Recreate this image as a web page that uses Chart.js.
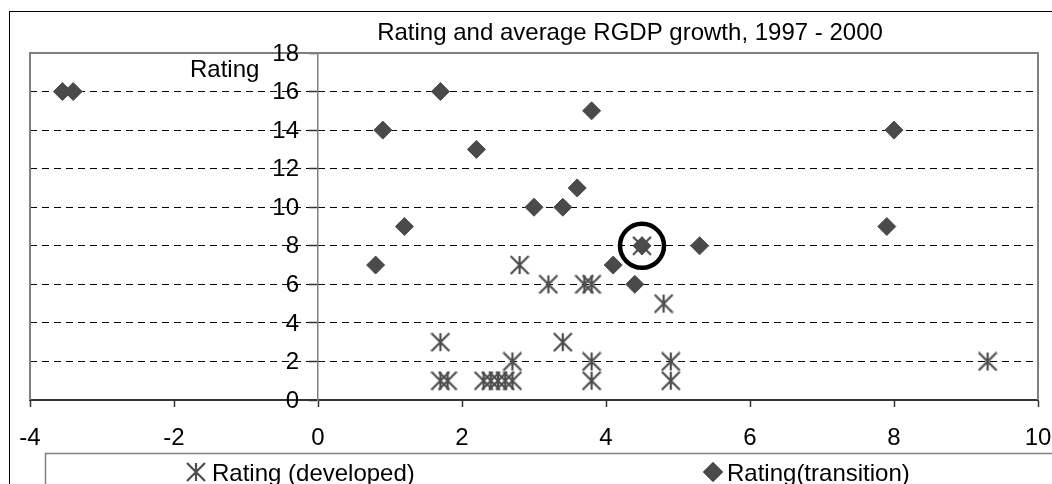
<!DOCTYPE html>
<html>
<head>
<meta charset="utf-8">
<script src="https://cdn.jsdelivr.net/npm/chart.js@4"></script>
<style>
  html, body { margin: 0; padding: 0; background: #fff; }
  #wrap { width: 1052px; height: 484px; }
</style>
</head>
<body>
<div id="wrap"><canvas id="myChart" width="1052" height="484"></canvas></div>
<script>
// average RGDP growth (x) against rating (y)
var devX = [1.7, 1.7, 1.8, 2.3, 2.4, 2.5, 2.6, 2.7, 2.7, 2.8, 3.2, 3.4, 3.7, 3.8, 3.8, 3.8, 4.5, 4.8, 4.9, 4.9, 9.3];
var devY = [3, 1, 1, 1, 1, 1, 1, 1, 2, 7, 6, 3, 6, 6, 2, 1, 8, 5, 2, 1, 2];
var transX = [-3.55, -3.4, 0.8, 0.9, 1.2, 1.7, 2.2, 3.0, 3.4, 3.6, 3.8, 4.1, 4.4, 4.5, 5.3, 7.9, 8.0];
var transY = [16, 16, 7, 14, 9, 16, 13, 10, 10, 11, 15, 7, 6, 8, 8, 9, 14];
var markedX = [4.5], markedY = [8];
var xTicks = [-4, -2, 0, 2, 4, 6, 8, 10];
var yTicks = [0, 2, 4, 6, 8, 10, 12, 14, 16, 18];

var fontFamily = '"Liberation Sans", Arial, sans-serif';

function pairs(xs, ys) {
  return xs.map(function (x, i) { return {x: x, y: ys[i]}; });
}

// excel style star marker: vertical bar plus an X
function makeAsterisk(size, color) {
  var c = document.createElement('canvas');
  c.width = size + 2;
  c.height = size + 2;
  var g = c.getContext('2d');
  var h = size / 2, m = c.width / 2;
  g.strokeStyle = color;
  g.lineWidth = 2.2;
  g.beginPath();
  g.moveTo(m, m - h); g.lineTo(m, m + h);
  g.moveTo(m - h, m - h); g.lineTo(m + h, m + h);
  g.moveTo(m + h, m - h); g.lineTo(m - h, m + h);
  g.stroke();
  return c;
}
var asterisk = makeAsterisk(18, '#4d4d4d');

var frame = {
  id: 'frame',
  beforeDraw: function (chart) {
    var ctx = chart.ctx;
    ctx.save();
    ctx.strokeStyle = '#000';
    ctx.lineWidth = 1;
    ctx.strokeRect(9.5, 11.5, 1200, 600);
    ctx.restore();
  },
  beforeDatasetsDraw: function (chart) {
    var ctx = chart.ctx, a = chart.chartArea;
    var x = chart.scales.x, y = chart.scales.y;
    ctx.save();
    ctx.strokeStyle = '#808080';
    ctx.lineWidth = 2;
    ctx.beginPath();
    ctx.moveTo(a.left, a.bottom);
    ctx.lineTo(a.left, a.top);
    ctx.lineTo(a.right, a.top);
    ctx.lineTo(a.right, a.bottom);
    ctx.stroke();

    ctx.fillStyle = '#000';
    ctx.font = '24px ' + fontFamily;
    // y tick labels sit left of the axis crossing at x = 0
    var ax = x.getPixelForValue(0);
    ctx.textAlign = 'right';
    ctx.textBaseline = 'middle';
    yTicks.forEach(function (v) {
      ctx.fillText(String(v), ax - 19, y.getPixelForValue(v) + 1);
    });
    // x tick labels, end ones allowed to hang past the plot edge
    ctx.textAlign = 'center';
    ctx.textBaseline = 'alphabetic';
    xTicks.forEach(function (v) {
      ctx.fillText(String(v), x.getPixelForValue(v), a.bottom + 45);
    });
    ctx.restore();
  },
  afterDraw: function (chart) {
    var ctx = chart.ctx;
    ctx.save();
    ctx.fillStyle = '#000';
    ctx.font = '24px ' + fontFamily;
    ctx.textBaseline = 'alphabetic';
    ctx.textAlign = 'center';
    ctx.fillText('Rating and average RGDP growth, 1997 - 2000', 630, 40);
    ctx.textAlign = 'left';
    ctx.fillText('Rating', 190, 77);

    // legend box
    ctx.strokeStyle = '#808080';
    ctx.lineWidth = 1.5;
    ctx.strokeRect(45.5, 453.5, 1200, 100);
    var spots = [{mx: 196, tx: 212}, {mx: 713, tx: 727}];
    var ds = chart.data.datasets.filter(function (d) { return d.label; });
    ds.forEach(function (d, i) {
      var s = spots[i];
      Chart.helpers.drawPoint(ctx, {
        pointStyle: d.pointStyle,
        radius: d.pointRadius,
        borderWidth: d.borderWidth,
        rotation: 0
      }, s.mx, 472);
      ctx.fillStyle = d.backgroundColor;
      ctx.strokeStyle = d.borderColor;
      if (d.pointStyle === 'rectRot') { ctx.fill(); ctx.stroke(); }
      ctx.fillStyle = '#000';
      ctx.fillText(d.label, s.tx, 481);
    });
    ctx.restore();
  }
};

var ctx = document.getElementById('myChart');
var myChart = new Chart(ctx, {
  type: 'scatter',
  data: {
    datasets: [{
      label: '',
      data: pairs(markedX, markedY),
      pointStyle: 'circle',
      pointRadius: 22,
      borderWidth: 4.5,
      borderColor: '#000',
      backgroundColor: 'rgba(0,0,0,0)',
      order: 0
    }, {
      label: 'Rating (developed)',
      data: pairs(devX, devY),
      pointStyle: asterisk,
      pointRadius: 9,
      borderWidth: 0,
      borderColor: '#4d4d4d',
      backgroundColor: '#4d4d4d',
      order: 1
    }, {
      label: 'Rating(transition)',
      data: pairs(transX, transY),
      pointStyle: 'rectRot',
      pointRadius: 9,
      borderWidth: 1,
      borderColor: '#4a4a4a',
      backgroundColor: '#4a4a4a',
      order: 2
    }]
  },
  options: {
    responsive: false,
    animation: false,
    events: [],
    layout: {
      // the big ring marker would otherwise push the plot edges in
      autoPadding: false,
      padding: {left: 30, top: 53, right: 14, bottom: 0}
    },
    plugins: {
      legend: {display: false},
      title: {display: false},
      tooltip: {enabled: false}
    },
    scales: {
      x: {
        type: 'linear',
        position: 'bottom',
        min: -4,
        max: 10,
        afterBuildTicks: function (scale) {
          scale.ticks = xTicks.map(function (v) { return {value: v}; });
        },
        afterFit: function (scale) { scale.height = 84; },
        grid: {
          drawOnChartArea: false,
          drawTicks: true,
          tickLength: 7,
          tickColor: '#333',
          tickWidth: 1.5
        },
        border: {color: '#333', width: 2},
        ticks: {display: false}
      },
      y: {
        type: 'linear',
        position: {x: 0},
        min: 0,
        max: 18,
        afterBuildTicks: function (scale) {
          scale.ticks = yTicks.map(function (v) { return {value: v}; });
        },
        // axis sits inside the plot, so it takes no room at the side
        afterFit: function (scale) { scale.width = 0; },
        grid: {
          color: function (c) {
            var v = c.tick && c.tick.value;
            return (v === 0 || v === 18) ? 'rgba(0,0,0,0)' : '#000';
          },
          lineWidth: 1,
          drawTicks: true,
          tickLength: 8,
          tickColor: '#333',
          tickWidth: 1.5,
          tickBorderDash: []
        },
        border: {color: '#808080', width: 1.5, dash: [7, 5]},
        ticks: {display: false}
      }
    }
  },
  plugins: [frame]
});
</script>
</body>
</html>
